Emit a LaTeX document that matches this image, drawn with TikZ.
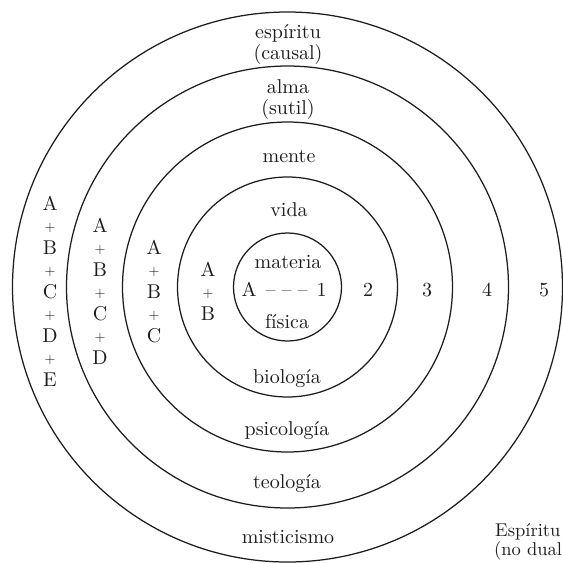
\documentclass[tikz,border=0pt]{standalone}
\usepackage{fontspec}
\setmainfont{lmroman10-regular}[Extension=.otf]
\definecolor{ink}{RGB}{30,28,28}
\begin{document}
\begin{tikzpicture}[x=1pt,y=-1pt,
  ring/.style={draw=ink,line width=1.25pt},
  lbl/.style={font=\fontsize{20}{22}\selectfont,text=ink,inner sep=0pt,anchor=base},
  corner/.style={font=\fontsize{18.5}{20}\selectfont,text=ink,inner sep=0pt,anchor=base west},
  plus/.style={font=\fontsize{14}{16}\selectfont,text=ink,inner sep=0pt,anchor=base}]
\useasboundingbox[fill=white] (0,0) rectangle (563,563);
\coordinate (O) at (287.5,287);
\foreach \r in {54,110,165,221,275} \draw[ring] (O) circle[radius=\r];
% ring labels
\node[lbl] (espiritu) at (288,38) {espíritu};
\node[lbl] (causal) at (288,59) {(causal)};
\node[lbl] (alma) at (288,93) {alma};
\node[lbl] (sutil) at (288,114) {(sutil)};
\node[lbl] (mente) at (289,162) {mente};
\node[lbl] (vida) at (289,216) {vida};
\node[lbl] (materia) at (288,268) {materia};
\node[lbl] (aone) at (284,296) {A\hskip 9pt–\hskip 6pt–\hskip 6pt–\hskip 9pt1};
\node[lbl] (fisica) at (287,328) {física};
\node[lbl] (biologia) at (287,383) {biología};
\node[lbl] (psicologia) at (287,435) {psicología};
\node[lbl] (teologia) at (287,488) {teología};
\node[lbl] (misticismo) at (288,543) {misticismo};
% numbers
\node[lbl] (ntwo) at (368,296) {2};
\node[lbl] (nthree) at (427,296) {3};
\node[lbl] (nfour) at (487,296) {4};
\node[lbl] (nfive) at (544,296) {5};
% corner
\node[corner] (Esp) at (495,536) {Espíritu};
\node[corner] (nodual) at (494,555) {(no dual};
% stacks
\foreach \sx/\letters/\sy in {208/{A,B}/276,154/{A,B,C}/254,100/{A,B,C,D}/232,50/{A,B,C,D,E}/210}{
  \foreach \L [count=\i] in \letters {
    \node[lbl] (s\sx-\i) at (\sx,{\sy+44*(\i-1)}) {\L};
    \ifnum\i>1
      \node[plus] (p\sx-\i) at (\sx,{\sy+44*(\i-1)-22.5}) {+};
    \fi
  }
}
\end{tikzpicture}
\end{document}
